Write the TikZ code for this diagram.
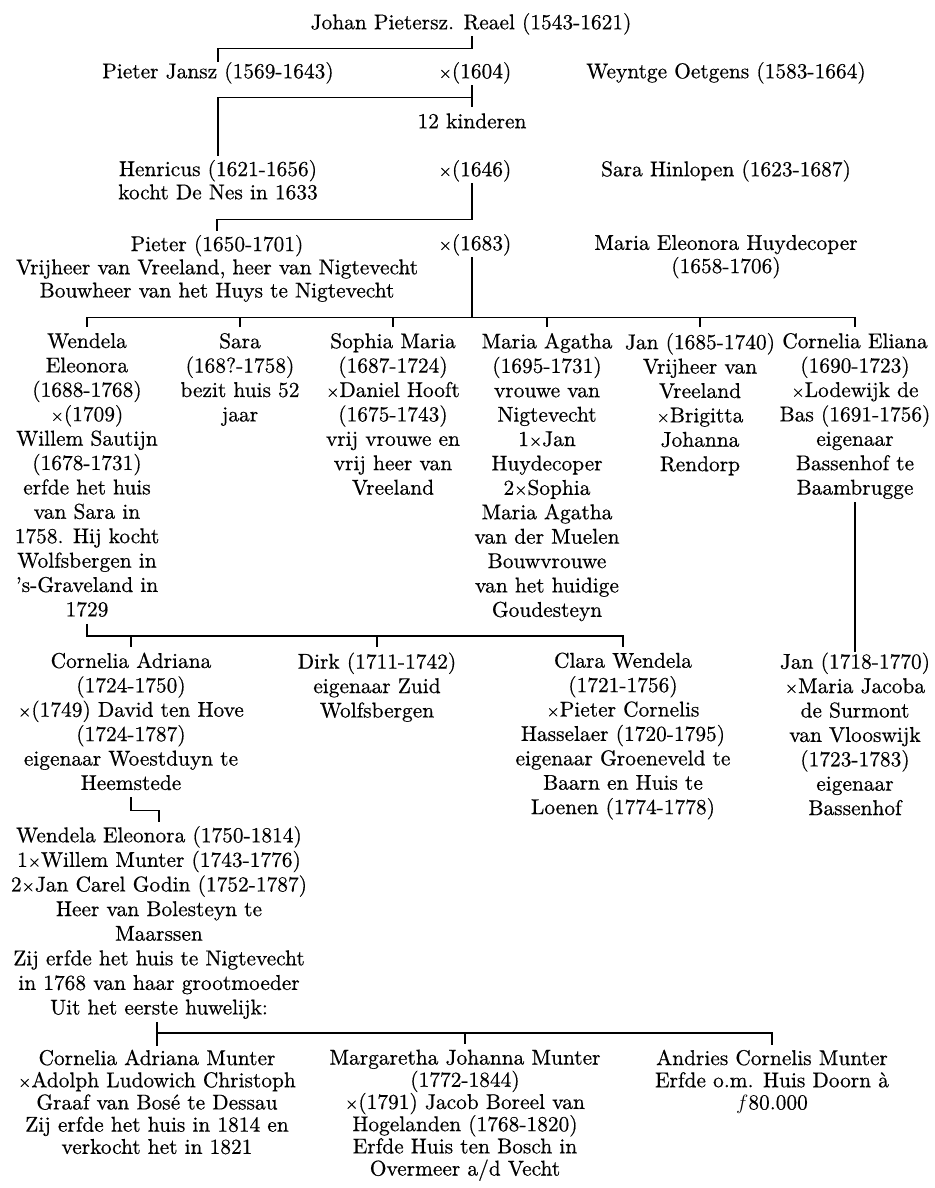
\documentclass[tikz,border=0pt]{standalone}
\usepackage{fontspec}
\setmainfont{lmroman10-regular.otf}[FakeBold=0.5]
\usetikzlibrary{calc}
\newcommand{\mx}{\raisebox{0pt}{\fontsize{17}{20}\selectfont ×}}
\tikzset{
  person/.style={align=center, anchor=north, inner sep=0pt,
    font=\fontsize{21.4}{#1}\selectfont,
    execute at begin node=\strut, execute at end node=\strut},
  toprow/.style={person=23.2},
  midrow/.style={person=24.4},
  wrow/.style={person=24.6},
  botrow/.style={person=22.2},
  link/.style={line width=1.4pt, line cap=butt, line join=miter}
}
\begin{document}
\begin{tikzpicture}[x=1pt,y=-1pt]
\useasboundingbox[fill=white] (0,0) rectangle (934,1188);
% ---- top generations
\node[toprow] (johan) at (471,12.8) {Johan Pietersz. Reael (1543-1621)};
\node[toprow] (pj) at (218,61.8) {Pieter Jansz (1569-1643)};
\node[toprow] (m1) at (475,61.8) {\mx(1604)};
\node[toprow] (wo) at (726,61.8) {Weyntge Oetgens (1583-1664)};
\node[toprow] (kind) at (472,111.8) {12 kinderen};
\node[toprow] (hen) at (218,159.8) {Henricus (1621-1656)\\kocht De Nes in 1633};
\node[toprow] (m2) at (475,159.8) {\mx(1646)};
\node[toprow] (sh) at (726,159.8) {Sara Hinlopen (1623-1687)};
\node[toprow] (pie) at (217,234.8) {Pieter (1650-1701)\\Vrijheer van Vreeland, heer van Nigtevecht\\Bouwheer van het Huys te Nigtevecht};
\node[toprow] (m3) at (475,233.8) {\mx(1683)};
\node[toprow] (me) at (726,234.8) {Maria Eleonora Huydecoper\\(1658-1706)};
% ---- children of Pieter
\node[midrow] (c1) at (87,332.9) {Wendela\\Eleonora\\(1688-1768)\\\mx(1709)\\Willem Sautijn\\(1678-1731)\\erfde het huis\\van Sara in\\1758. Hij kocht\\Wolfsbergen in\\’s-Graveland in\\1729};
\node[midrow] (c2) at (240,332.9) {Sara\\(168?-1758)\\bezit huis 52\\jaar};
\node[midrow] (c3) at (393,332.9) {Sophia Maria\\(1687-1724)\\\mx Daniel Hooft\\(1675-1743)\\vrij vrouwe en\\vrij heer van\\Vreeland};
\node[midrow] (c4) at (547,332.9) {Maria Agatha\\(1695-1731)\\vrouwe van\\Nigtevecht\\1\mx Jan\\Huydecoper\\2\mx Sophia\\Maria Agatha\\van der Muelen\\Bouwvrouwe\\van het huidige\\Goudesteyn};
\node[midrow] (c5) at (700,332.9) {Jan (1685-1740)\\Vrijheer van\\Vreeland\\\mx Brigitta\\Johanna\\Rendorp};
\node[midrow] (c6) at (855,332.9) {Cornelia Eliana\\(1690-1723)\\\mx Lodewijk de\\Bas (1691-1756)\\eigenaar\\Bassenhof te\\Baambrugge};
% ---- grandchildren
\node[midrow] (g1) at (131,652.4) {Cornelia Adriana\\(1724-1750)\\\mx(1749) David ten Hove\\(1724-1787)\\eigenaar Woestduyn te\\Heemstede};
\node[midrow] (g2) at (377,652.4) {Dirk (1711-1742)\\eigenaar Zuid\\Wolfsbergen};
\node[midrow] (g3) at (623,652.4) {Clara Wendela\\(1721-1756)\\\mx Pieter Cornelis\\Hasselaer (1720-1795)\\eigenaar Groeneveld te\\Baarn en Huis te\\Loenen (1774-1778)};
\node[midrow] (g4) at (855,652.4) {Jan (1718-1770)\\\mx Maria Jacoba\\de Surmont\\van Vlooswijk\\(1723-1783)\\eigenaar\\Bassenhof};
% ---- Wendela Eleonora
\node[wrow] (we) at (159,826) {Wendela Eleonora (1750-1814)\\1\mx Willem Munter (1743-1776)\\2\mx Jan Carel Godin (1752-1787)\\Heer van Bolesteyn te\\Maarssen\\Zij erfde het huis te Nigtevecht\\in 1768 van haar grootmoeder\\Uit het eerste huwelijk:};
% ---- Munter children
\node[botrow] (b1) at (157,1049.5) {Cornelia Adriana Munter\\\mx Adolph Ludowich Christoph\\Graaf van Bosé te Dessau\\Zij erfde het huis in 1814 en\\verkocht het in 1821};
\node[botrow] (b2) at (465,1049.5) {Margaretha Johanna Munter\\(1772-1844)\\\mx(1791) Jacob Boreel van\\Hogelanden (1768-1820)\\Erfde Huis ten Bosch in\\Overmeer a/d Vecht};
\node[botrow] (b3) at (772,1049.5) {Andries Cornelis Munter\\Erfde o.m. Huis Doorn à\\$f$80.000};
% ---- connectors
\draw[link] (johan.south -| kind.north) -- ++(0,12) -| (pj.north);
\draw[link] (m1.south -| kind.north) -- ++(0,22);
\draw[link, shorten >=4pt] (m1.south -| kind.north) ++(0,12) -| (hen.north);
\draw[link, shorten >=4pt] (m2.south -| kind.north) -- ++(0,36) -| (pie.north);
\path (m3.south -| kind.north) ++(0,60) coordinate (bar1);
\draw[link] (m3.south -| kind.north) -- (bar1);
\draw[link] (c1.north |- bar1) -- (c6.north |- bar1);
\foreach \n in {c1,c2,c3,c4,c5,c6} \draw[link] (\n.north |- bar1) -- ++(0,10);
\draw[link] (c6.south) -- (g4.north);
\path (c1.south) ++(0,12) coordinate (bar2);
\draw[link] (c1.south) -- (bar2) -- (g3.north |- bar2) -- ++(0,11);
\draw[link] (g1.north |- bar2) -- ++(0,11);
\draw[link] (g2.north |- bar2) -- ++(0,11);
\draw[link, shorten >=4pt] (g1.south) -- ++(0,13) -| (we.north);
\path (we.south) ++(0,11) coordinate (bar3);
\draw[link] (b1.north |- we.south) -- ++(0,24);
\draw[link] (b1.north |- bar3) -- (b3.north |- bar3) -- ++(0,12);
\draw[link] (b2.north |- bar3) -- ++(0,11);
\end{tikzpicture}
\end{document}
